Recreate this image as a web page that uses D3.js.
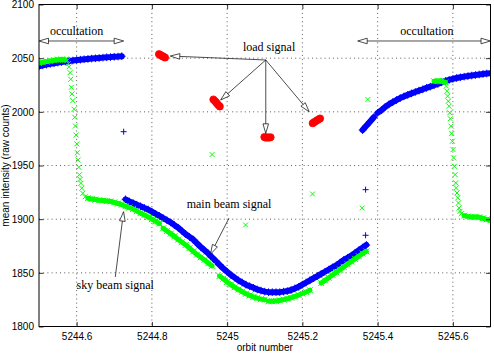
<!DOCTYPE html>
<html lang="en">
<head>
<meta charset="UTF-8">
<title>Mean intensity vs orbit number</title>
<script src="https://d3js.org/d3.v7.min.js"></script>
<style>
    body { margin: 0; background: #fff; }
    svg { display: block; }
    .tick text { font-family: "Liberation Sans", Arial, sans-serif; font-size: 10px; fill: #000; }
    .axis_label { font-family: "Liberation Sans", Arial, sans-serif; font-size: 10px; }
    .note { font-family: "Liberation Serif", "Times New Roman", serif; font-size: 12px; }
</style>
</head>
<body>
<svg width="494" height="353"></svg>

<script>
    // sampling step of the dense bands, in orbits
    const step = 0.01;

    // main beam signal (blue +), dense segments: first orbit + values
    const mainA0 = 5244.50;
    const mainA = [2042.5, 2043.3, 2044, 2044.7, 2045.3, 2045.9, 2046.4, 2046.9, 2047.4, 2047.8,
        2048.2, 2048.6, 2049, 2049.3, 2049.6, 2049.9, 2050.2, 2050.5, 2050.8, 2051, 2051.3, 2051.5, 2051.8];
    const mainB0 = 5244.73;
    const mainB = [1918.5, 1916.5, 1915, 1913.5, 1912, 1910.5, 1909, 1907, 1905, 1903,
        1901, 1899, 1897, 1894.5, 1892, 1889, 1886, 1883.5, 1881, 1877.5,
        1874, 1871, 1868, 1864.5, 1861, 1857.5, 1854, 1851, 1848, 1845.5,
        1843, 1841, 1839, 1837.5, 1836, 1834.5, 1833.5, 1832.5, 1832, 1832,
        1832, 1832, 1832.5, 1833, 1834, 1835.5, 1837, 1839, 1841, 1843,
        1845, 1847, 1849, 1851, 1853, 1855, 1857, 1859.5, 1862, 1864,
        1866, 1868.5, 1871, 1873.5, 1876];
    const mainC0 = 5245.36;
    const mainC = [1983, 1987, 1991, 1995];
    const mainD0 = 5245.40;
    const mainD = [1999, 2001.5, 2004.5, 2007, 2009, 2011, 2012.8, 2014.4, 2015.8, 2017.2,
        2018.5, 2019.8, 2021, 2022.3, 2023.5, 2024.8, 2026, 2027.5, 2028.8, 2029.8,
        2030.7, 2031.5, 2032.2, 2032.8, 2033.3, 2033.8, 2034.3, 2034.8, 2035.3, 2035.7, 2036];
    const mainStray = [[5244.725, 1981.5], [5245.368, 1927.5], [5245.368, 1885]];

    // sky beam signal (green x)
    const skyA0 = 5244.50;
    const skyA = [2045.5, 2046.2, 2046.8, 2047.4, 2048, 2048.5, 2048.8, 2048.6];
    const skyDropLeft = [[5244.575, 2047.8], [5244.578, 2045], [5244.58, 2042], [5244.5827, 2036.5],
        [5244.5845, 2030.3], [5244.5861, 2022.9], [5244.588, 2016.7], [5244.5899, 2010.4],
        [5244.5933, 2002.4], [5244.5952, 1994.9], [5244.5968, 1986.8], [5244.5987, 1978.4],
        [5244.6005, 1970.1], [5244.6021, 1961.9], [5244.604, 1955.1], [5244.6059, 1948.3],
        [5244.6075, 1941.4], [5244.6093, 1937.1], [5244.6115, 1933.4], [5244.6139, 1928.8],
        [5244.6165, 1924.1], [5244.6227, 1920.9]];
    const skyB0 = 5244.63;
    const skyB = [1919.5, 1918.8, 1918.2, 1917.7, 1917.3, 1916.9, 1916.5, 1915.6, 1914.6, 1913.5,
        1912, 1910.8, 1909.5, 1907.5, 1905.6, 1903.8, 1902, 1900, 1898, 1896];
    const skyC0 = 5244.83;
    const skyC = [1891.5, 1889, 1886.5, 1884, 1881, 1878.5, 1876, 1873, 1870, 1867, 1864.5, 1862, 1859, 1856.5];
    const skyD0 = 5244.98;
    const skyD = [1847, 1844.5, 1841.5, 1839, 1836.5, 1834.5, 1832.5, 1830.5, 1829, 1827.5, 1826.5, 1825.5, 1825];
    const skyE0 = 5245.11;
    const skyE = [1823.5, 1823.5, 1823.8, 1824.3, 1825, 1825.8, 1826.8, 1828, 1829.3, 1830.7, 1832.2, 1833.8];
    const skyF0 = 5245.25;
    const skyF = [1840.5, 1843, 1845.5, 1848, 1850.5, 1853, 1855.5, 1858, 1860.5, 1863, 1865.5, 1868, 1870];
    const skyG0 = 5245.55;
    const skyG = [2028.5, 2028.8, 2028.5, 2027.5];
    const skyDropRight = [[5245.5827, 2024], [5245.5845, 2019.2], [5245.586, 2014.6], [5245.588, 2009.9],
        [5245.59, 2005.2], [5245.5915, 1999.1], [5245.5933, 1993.5], [5245.595, 1986.6],
        [5245.597, 1979.8], [5245.5987, 1972.6], [5245.6005, 1964.8], [5245.602, 1957.1],
        [5245.604, 1949.3], [5245.606, 1941.5], [5245.6075, 1933.8], [5245.609, 1929.1],
        [5245.611, 1924.4], [5245.613, 1919.8], [5245.6147, 1915.1], [5245.6165, 1910.4],
        [5245.619, 1907.3], [5245.6227, 1905.1]];
    const skyH0 = 5245.63;
    const skyH = [1903.3, 1902.6, 1902.1, 1902, 1901.8, 1900.8, 1899.8, 1899];
    const skyStray = [[5244.96, 1960.2], [5245.374, 2011.5], [5245.227, 1923.5], [5245.359, 1910.4], [5245.049, 1894.6]];

    // load signal (red o)
    const loadSignal = [
        [5244.819, 2053.7], [5244.823, 2052.9], [5244.827, 2052.1], [5244.831, 2051.4], [5244.835, 2050.6],
        [5244.9635, 2011.5], [5244.968, 2009.9], [5244.972, 2008.3], [5244.976, 2006.6], [5244.9805, 2005],
        [5245.099, 1976.5], [5245.103, 1976], [5245.107, 1976.2], [5245.111, 1976], [5245.1155, 1976.3],
        [5245.2275, 1989.4], [5245.232, 1990.5], [5245.237, 1991.6], [5245.242, 1992.7], [5245.247, 1993.8]];

    // axes
    const xTicks = [5244.6, 5244.8, 5245, 5245.2, 5245.4, 5245.6];
    const xTickLabels = ["5244.6", "5244.8", "5245", "5245.2", "5245.4", "5245.6"];
    const yTicks = [1800, 1850, 1900, 1950, 2000, 2050, 2100];

    // annotations (data units)
    const notes = [
        ["occultation", 5244.600, 2071.6],
        ["occultation", 5245.531, 2071.6],
        ["load signal", 5245.1115, 2056.5],
        ["main beam signal", 5245.005, 1910],
        ["sky beam signal", 5244.7027, 1835]];
    const doubleArrows = [
        [[5244.5, 2066], [5244.725, 2066]],
        [[5245.347, 2066], [5245.7, 2066]]];
    const arrows = [
        [[5245.1027, 2048.3], [5244.849, 2052]],
        [[5245.1027, 2048.3], [5244.9827, 2011]],
        [[5245.1027, 2048.3], [5245.1027, 1980]],
        [[5245.1027, 2048.3], [5245.2181, 2000.1]],
        [[5245.0048, 1900.8], [5244.956, 1867.5]],
        [[5244.7027, 1846.1], [5244.7248, 1907]]];

    const svg = d3.select("svg");
    const x = d3.scaleLinear().domain([5244.5, 5245.7]).range([39, 490.5]);
    const y = d3.scaleLinear().domain([1800, 2100]).range([326.5, 4.5]);

    svg.append("defs").append("clipPath").attr("id", "plotclip")
        .append("rect").attr("x", x(5244.5)).attr("y", y(2100))
        .attr("width", x(5245.7) - x(5244.5)).attr("height", y(1800) - y(2100));

    // grid
    const grid = svg.append("g").attr("stroke", "#333").attr("stroke-width", 0.8).attr("stroke-dasharray", "1,3.2");
    grid.selectAll(".gx").data(xTicks).enter().append("line")
        .attr("x1", d => x(d)).attr("x2", d => x(d)).attr("y1", y(2100)).attr("y2", y(1800));
    grid.selectAll(".gy").data(yTicks.slice(1, -1)).enter().append("line")
        .attr("y1", d => y(d)).attr("y2", d => y(d)).attr("x1", x(5244.5)).attr("x2", x(5245.7));

    const band = (start, values) => values.map((v, i) => [start + i * step, v]);
    const plus = s => `M${-s},0H${s}M0,${-s}V${s}`;
    const cross = s => `M${-s},${-s}L${s},${s}M${-s},${s}L${s},${-s}`;
    const line = d3.line().x(d => x(d[0])).y(d => y(d[1]));

    const plot = svg.append("g").attr("clip-path", "url(#plotclip)");

    function drawBand(pts, color, width) {
        plot.append("path").datum(pts).attr("d", line)
            .attr("fill", "none").attr("stroke", color).attr("stroke-width", width)
            .attr("stroke-linejoin", "round").attr("stroke-linecap", "round");
    }
    function drawMarks(pts, shape, color) {
        plot.append("g").selectAll("path").data(pts).enter().append("path")
            .attr("d", shape)
            .attr("transform", d => `translate(${x(d[0])},${y(d[1])})`)
            .attr("fill", "none").attr("stroke", color).attr("stroke-width", 1);
    }

    // main beam
    const mainBands = [band(mainA0, mainA), band(mainB0, mainB), band(mainC0, mainC), band(mainD0, mainD)];
    mainBands.forEach(b => drawBand(b, "#0000ff", 6));
    mainBands.forEach(b => drawMarks(b, plus(3.8), "#0000ff"));
    drawMarks(mainStray, plus(3), "#0000ff");

    // sky beam
    const skyBands = [band(skyA0, skyA), band(skyB0, skyB), band(skyC0, skyC), band(skyD0, skyD),
        band(skyE0, skyE), band(skyF0, skyF), band(skyG0, skyG), band(skyH0, skyH)];
    skyBands.forEach(b => drawBand(b, "#00ff00", 5));
    skyBands.forEach(b => drawMarks(b, cross(3), "#00ff00"));
    drawMarks(skyDropLeft, cross(2.5), "#00ff00");
    drawMarks(skyDropRight, cross(2.5), "#00ff00");
    drawMarks(skyStray, cross(2.4), "#00ff00");

    // load signal
    plot.append("g").selectAll("circle").data(loadSignal).enter().append("circle")
        .attr("cx", d => x(d[0])).attr("cy", d => y(d[1])).attr("r", 3.6)
        .attr("fill", "#ff0000").attr("stroke", "#ff0000").attr("stroke-width", 0.8);

    // axes: ticks inward on all four sides
    const xAxis = svg.append("g").attr("transform", `translate(0,${y(1800)})`)
        .call(d3.axisBottom(x).tickValues(xTicks).tickFormat((d, i) => xTickLabels[i])
            .tickSize(-4.5).tickSizeOuter(0).tickPadding(6));
    const yAxis = svg.append("g").attr("transform", `translate(${x(5244.5)},0)`)
        .call(d3.axisLeft(y).tickValues(yTicks).tickFormat(d3.format("d"))
            .tickSize(-4.5).tickSizeOuter(0).tickPadding(5));
    const topAxis = svg.append("g").attr("transform", `translate(0,${y(2100)})`)
        .call(d3.axisTop(x).tickValues(xTicks).tickFormat("").tickSize(-4.5).tickSizeOuter(0));
    const rightAxis = svg.append("g").attr("transform", `translate(${x(5245.7)},0)`)
        .call(d3.axisRight(y).tickValues(yTicks).tickFormat("").tickSize(-4.5).tickSizeOuter(0));
    [xAxis, yAxis, topAxis, rightAxis].forEach(a => {
        a.select(".domain").remove();
        a.selectAll(".tick line").attr("stroke", "#000").attr("stroke-width", 0.8);
    });

    svg.append("rect").attr("x", x(5244.5)).attr("y", y(2100))
        .attr("width", x(5245.7) - x(5244.5)).attr("height", y(1800) - y(2100))
        .attr("fill", "none").attr("stroke", "#000").attr("stroke-width", 1);

    svg.append("text").attr("class", "axis_label")
        .attr("x", (x(5244.5) + x(5245.7)) / 2).attr("y", 351)
        .attr("text-anchor", "middle").text("orbit number");
    svg.append("text").attr("class", "axis_label")
        .attr("transform", `translate(8.5,${(y(1800) + y(2100)) / 2}) rotate(-90)`)
        .attr("text-anchor", "middle").text("mean intensity (raw counts)");

    // annotations
    const ann = svg.append("g");
    function head(tip, from) {
        const tx = x(tip[0]), ty = y(tip[1]), fx = x(from[0]), fy = y(from[1]);
        const len = Math.hypot(fx - tx, fy - ty), ux = (fx - tx) / len, uy = (fy - ty) / len;
        const L = 9.5, H = 2.8;
        const bx = tx + ux * L, by = ty + uy * L;
        ann.append("polygon")
            .attr("points", [[tx, ty], [bx - uy * H, by + ux * H], [bx + uy * H, by - ux * H]].map(p => p.join(",")).join(" "))
            .attr("fill", "#fff").attr("stroke", "#000").attr("stroke-width", 0.7);
        return [bx, by];
    }
    arrows.forEach(([from, tip]) => {
        const b = head(tip, from);
        ann.append("line").attr("x1", x(from[0])).attr("y1", y(from[1])).attr("x2", b[0]).attr("y2", b[1])
            .attr("stroke", "#000").attr("stroke-width", 0.7);
    });
    doubleArrows.forEach(([a, b]) => {
        const p = head(a, b), q = head(b, a);
        ann.append("line").attr("x1", p[0]).attr("y1", p[1]).attr("x2", q[0]).attr("y2", q[1])
            .attr("stroke", "#000").attr("stroke-width", 0.7);
    });
    ann.selectAll("text").data(notes).enter().append("text").attr("class", "note")
        .attr("x", d => x(d[1])).attr("y", d => y(d[2]))
        .attr("text-anchor", "middle").text(d => d[0]);
</script>
</body>
</html>
